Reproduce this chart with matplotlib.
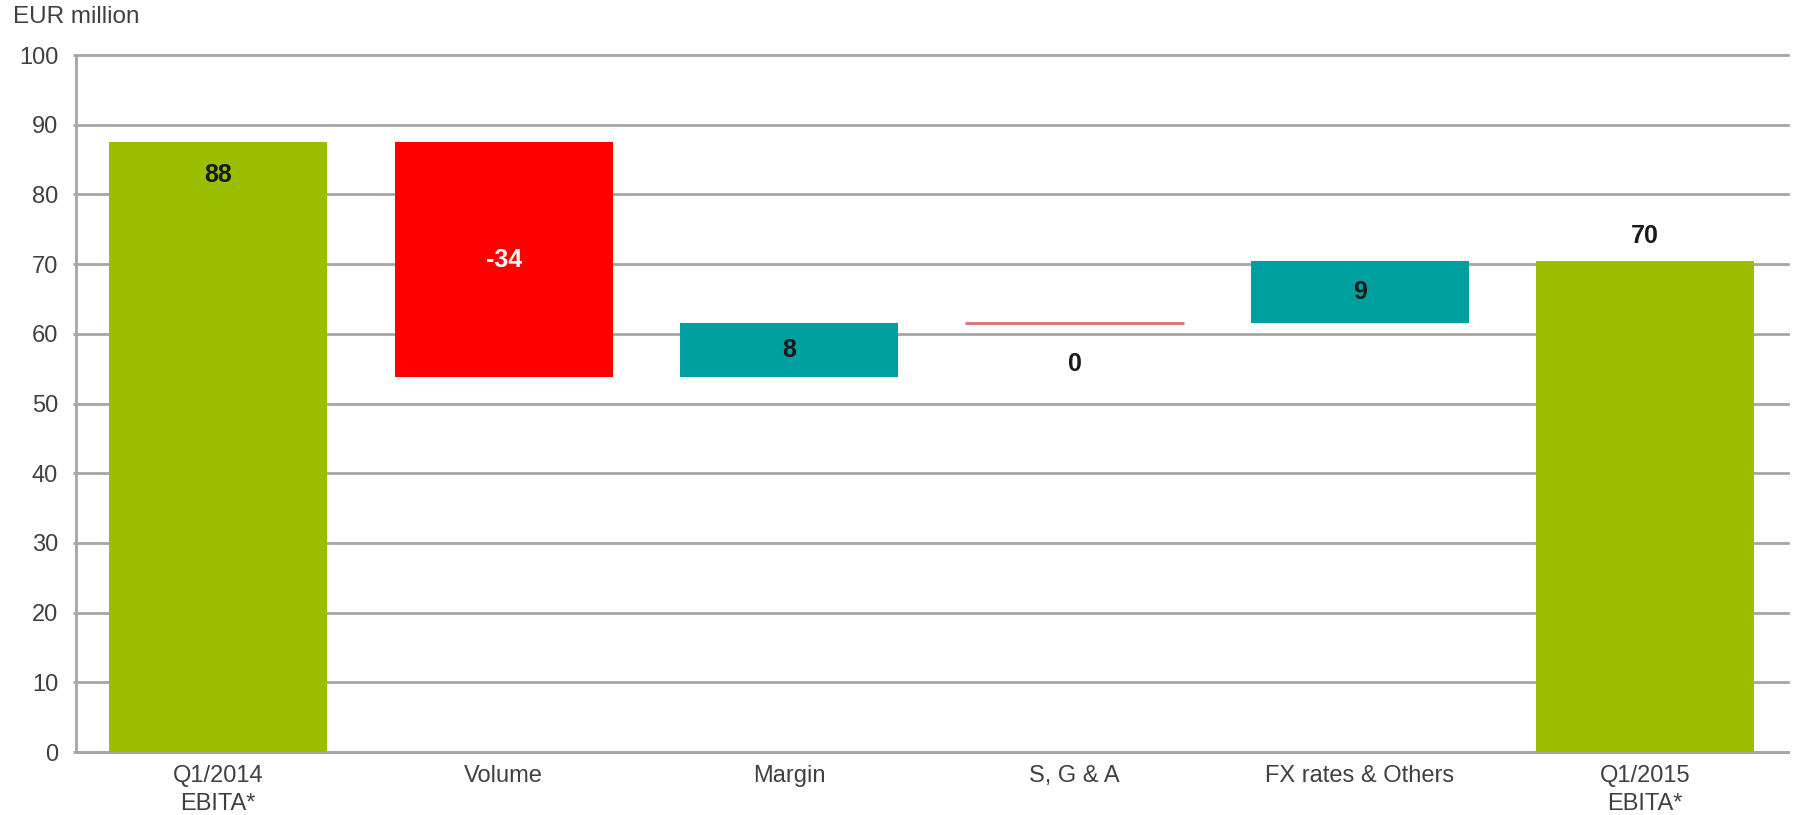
import numpy as np
import matplotlib.pyplot as plt

plt.rcParams['font.family'] = ['Liberation Sans', 'DejaVu Sans']

# -----------------------------
# Data
# -----------------------------

categories = ["Q1/2014\nEBITA*", "Volume", "Margin", "S, G & A", "FX rates & Others", "Q1/2015\nEBITA*"]
start_value = 87.5
deltas = [-33.7, 7.8, 0.0, 8.8]
end_value = 70.4
labels = ["88", "-34", "8", "0", "9", "70"]

green = "#9bbf00"
red = "#ff0000"
teal = "#009f9f"
zero_line = "#e06c6c"

# -----------------------------
# Waterfall geometry
# -----------------------------

running = start_value + np.concatenate([[0], np.cumsum(deltas)])
bottoms = np.minimum(running[:-1], running[1:])
heights = np.abs(np.array(deltas))

fig = plt.figure(figsize=(17.95, 8.15), dpi=100)
ax = fig.add_axes([0.0421, 0.0773, 0.954, 0.8552])

x = np.arange(len(categories))
w = 0.765

ax.bar(x[0], start_value, width=w, color=green, zorder=3)
ax.bar(x[-1], end_value, width=w, color=green, zorder=3)

for i, d in enumerate(deltas):
    xi = x[i + 1]
    if d == 0:
        ax.hlines(running[i], xi - w / 2, xi + w / 2, color=zero_line, linewidth=2, zorder=3)
    else:
        ax.bar(xi, heights[i], bottom=bottoms[i], width=w,
               color=red if d < 0 else teal, zorder=3)

# -----------------------------
# Value labels
# -----------------------------

lab_kw = dict(ha='center', va='center', fontsize=18, fontweight='bold', zorder=4)

ax.text(x[0], start_value - 4.7, labels[0], color='#1a1a1a', **lab_kw)
for i, d in enumerate(deltas):
    xi = x[i + 1]
    if d == 0:
        ax.text(xi, running[i] - 5.9, labels[i + 1], color='#1a1a1a', **lab_kw)
    else:
        ax.text(xi, bottoms[i] + heights[i] / 2, labels[i + 1],
                color='white' if d < 0 else '#1a1a1a', **lab_kw)
ax.text(x[-1], end_value + 3.7, labels[-1], color='#1a1a1a', **lab_kw)

# -----------------------------
# Axes styling
# -----------------------------

ax.set_xlim(-0.5, len(categories) - 0.5)
ax.set_ylim(0, 100)
ax.set_yticks(np.arange(0, 101, 10))
ax.set_xticks(x)
ax.set_xticklabels(categories, fontsize=17, color='#404040', linespacing=1.4)
ax.tick_params(axis='y', labelsize=17, labelcolor='#404040', color='#a6a6a6',
               length=2.5, width=2, pad=10)
ax.tick_params(axis='x', length=0, pad=9)

ax.grid(axis='y', color='#a6a6a6', linewidth=2, zorder=0)
ax.set_axisbelow(True)
for gl in ax.get_ygridlines():
    gl.set_clip_on(False)

for s in ['top', 'right']:
    ax.spines[s].set_visible(False)
for s in ['left', 'bottom']:
    ax.spines[s].set_color('#a6a6a6')
    ax.spines[s].set_linewidth(2)

fig.text(0.0074, 0.979, "EUR million", fontsize=17.5, color='#404040', va='center', ha='left')

fig.savefig("out.png", dpi=100)
